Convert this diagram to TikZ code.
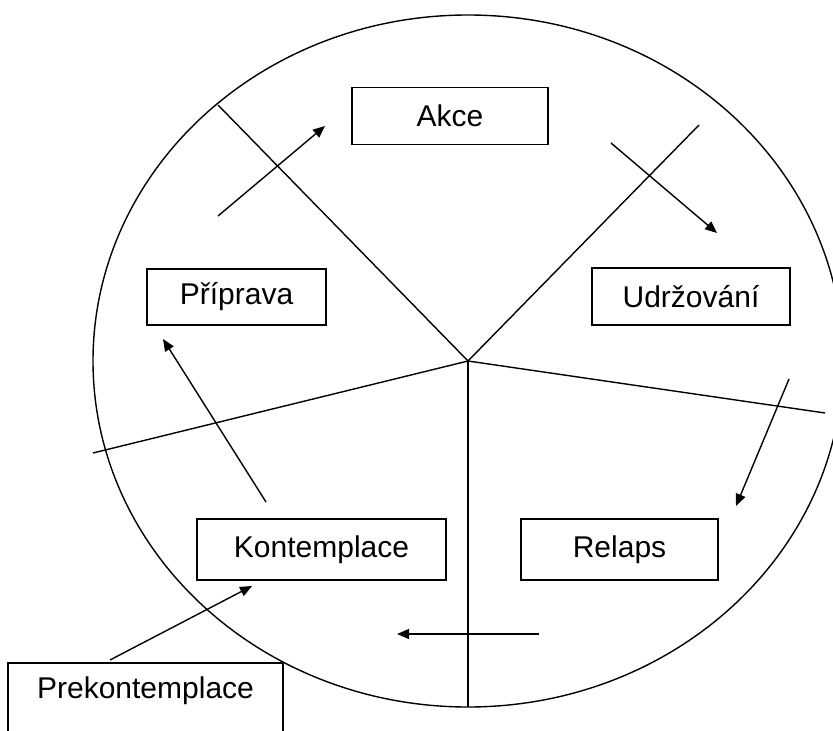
\documentclass[tikz,border=0pt]{standalone}
\usepackage{fontspec}
\setmainfont{Liberation Sans}
\usetikzlibrary{arrows.meta}
\begin{document}
\begin{tikzpicture}[x=0.5pt,y=-0.5pt,
  line width=0.7pt,
  box/.style={draw, line width=0.8pt, inner sep=0pt, font=\fontsize{15pt}{18pt}\selectfont},
  lbl/.style={inner sep=0pt, font=\fontsize{15pt}{18pt}\selectfont},
  arr/.style={-{Triangle[length=6pt,width=5pt]}}]
\useasboundingbox (0,0) rectangle (833,731);
\clip (0,0) rectangle (833,731);
% circle
\coordinate (c) at (468,361);
\draw (c) ellipse [x radius=187.5pt, y radius=173pt];
% spokes
\coordinate (s1) at (218,105);
\coordinate (s2) at (699,125);
\coordinate (s3) at (825,413);
\coordinate (s4) at (93,453);
\coordinate (s5) at (468,707);
\foreach \s in {s1,s2,s3,s4,s5} \draw (c) -- (\s);
% boxes
\node[box, minimum width=98pt, minimum height=28.5pt] (akce) at (450,116) {Akce};
\node[box, minimum width=99pt, minimum height=28.5pt] (udr) at (691,296.5) {Udržování};
\node[box, minimum width=89.5pt, minimum height=28pt] (pri) at (236.5,297) {Příprava};
\node[box, minimum width=124.5pt, minimum height=30.5pt] (kon) at (321.5,549.5) {Kontemplace};
\node[box, minimum width=98.5pt, minimum height=30.5pt] (rel) at (619.5,549.5) {Relaps};
\node[box, anchor=north, minimum width=137.5pt, minimum height=50pt] (prebox) at (145.5,662) {};
\node[lbl] (pre) at (145.5,691) {Prekontemplace};
% arrows
\coordinate (a1s) at (218,216); \coordinate (a1e) at (325,126);
\coordinate (a2s) at (611,143); \coordinate (a2e) at (717,233);
\coordinate (a3s) at (789,379); \coordinate (a3e) at (736,506);
\coordinate (a4s) at (539,634); \coordinate (a4e) at (397,634);
\coordinate (a5s) at (266,502); \coordinate (a5e) at (163,339);
\coordinate (a6s) at (110,660); \coordinate (a6e) at (252,586);
\foreach \i in {1,...,6} \draw[arr] (a\i s) -- (a\i e);
\end{tikzpicture}
\end{document}
